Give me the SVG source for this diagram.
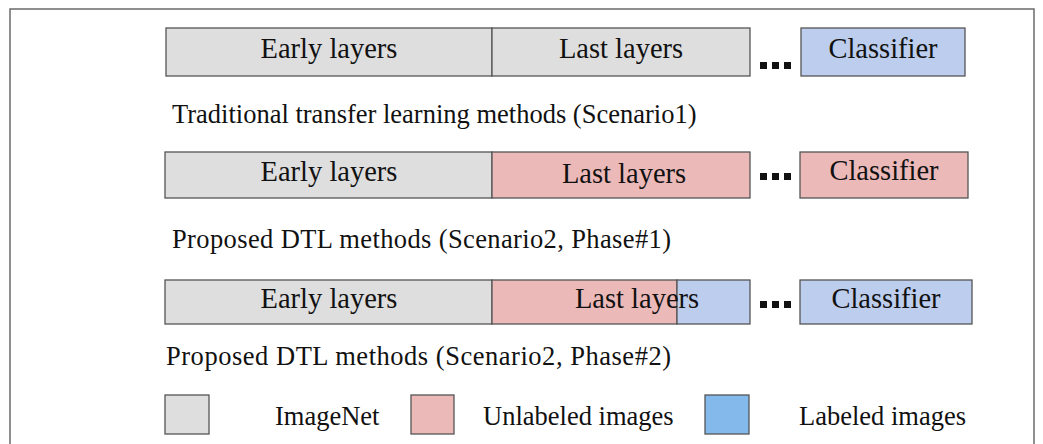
<svg xmlns="http://www.w3.org/2000/svg" width="1043" height="444" viewBox="0 0 1043 444">
  <style>
    .frame { fill: #ffffff; stroke: #6b6b6b; stroke-width: 1.5; }
    .box { stroke: #555555; stroke-width: 1.3; }
    .gray { fill: #dedede; }
    .pink { fill: #ecb9b9; }
    .blue { fill: #bccdee; }
    .bluelegend { fill: #84b9ec; }
    .lbl { font-family: "Liberation Serif", "Times New Roman", serif; font-size: 28.5px; fill: #111111; text-anchor: middle; }
    .cap { font-family: "Liberation Serif", "Times New Roman", serif; font-size: 26.5px; fill: #111111; }
    .dots { fill: #111111; }
  </style>

  <rect class="frame" x="10" y="9" width="1024" height="450"/>

  <!-- Row 1: traditional transfer learning -->
  <g id="row1">
    <g id="r1-early">
      <rect class="box gray" x="166" y="28" width="326" height="48"/>
      <text class="lbl" x="329" y="58">Early layers</text>
    </g>
    <g id="r1-last">
      <rect class="box gray" x="492" y="28" width="258" height="48"/>
      <text class="lbl" x="621" y="58">Last layers</text>
    </g>
    <g id="r1-dots" class="dots">
      <rect x="760" y="62" width="7" height="7"/>
      <rect x="772" y="62" width="7" height="7"/>
      <rect x="784" y="62" width="7" height="7"/>
    </g>
    <g id="r1-classifier">
      <rect class="box blue" x="801" y="28" width="164" height="48"/>
      <text class="lbl" x="883" y="58">Classifier</text>
    </g>
    <text class="cap" x="172" y="123">Traditional transfer learning methods (Scenario1)</text>
  </g>

  <!-- Row 2: proposed DTL, phase 1 -->
  <g id="row2">
    <g id="r2-early">
      <rect class="box gray" x="165" y="152" width="327" height="46"/>
      <text class="lbl" x="329" y="181">Early layers</text>
    </g>
    <g id="r2-last">
      <rect class="box pink" x="492" y="152" width="258" height="46"/>
      <text class="lbl" x="624" y="183">Last layers</text>
    </g>
    <g id="r2-dots" class="dots">
      <rect x="760" y="173" width="7" height="7"/>
      <rect x="772" y="173" width="7" height="7"/>
      <rect x="784" y="173" width="7" height="7"/>
    </g>
    <g id="r2-classifier">
      <rect class="box pink" x="800" y="152" width="168" height="46"/>
      <text class="lbl" x="884" y="180">Classifier</text>
    </g>
    <text class="cap" x="172" y="248" textLength="499" lengthAdjust="spacing">Proposed DTL methods (Scenario2, Phase#1)</text>
  </g>

  <!-- Row 3: proposed DTL, phase 2 -->
  <g id="row3">
    <g id="r3-early">
      <rect class="box gray" x="165" y="280" width="327" height="44"/>
      <text class="lbl" x="329" y="308">Early layers</text>
    </g>
    <g id="r3-last">
      <rect class="box pink" x="492" y="280" width="185" height="44"/>
      <rect class="box blue" x="677" y="280" width="73" height="44"/>
      <text class="lbl" x="637" y="308">Last layers</text>
    </g>
    <g id="r3-dots" class="dots">
      <rect x="760" y="301" width="7" height="7"/>
      <rect x="772" y="301" width="7" height="7"/>
      <rect x="784" y="301" width="7" height="7"/>
    </g>
    <g id="r3-classifier">
      <rect class="box blue" x="800" y="280" width="172" height="44"/>
      <text class="lbl" x="886" y="308">Classifier</text>
    </g>
    <text class="cap" x="166" y="365" textLength="505" lengthAdjust="spacing">Proposed DTL methods (Scenario2, Phase#2)</text>
  </g>

  <!-- Legend -->
  <g id="legend">
    <g id="leg-imagenet">
      <rect class="box gray" x="165" y="395" width="44" height="39"/>
      <text class="cap" x="275" y="425">ImageNet</text>
    </g>
    <g id="leg-unlabeled">
      <rect class="box pink" x="411" y="395" width="43" height="39"/>
      <text class="cap" x="483" y="425">Unlabeled images</text>
    </g>
    <g id="leg-labeled">
      <rect class="box bluelegend" x="705" y="395" width="44" height="39"/>
      <text class="cap" x="799" y="425">Labeled images</text>
    </g>
  </g>
</svg>
